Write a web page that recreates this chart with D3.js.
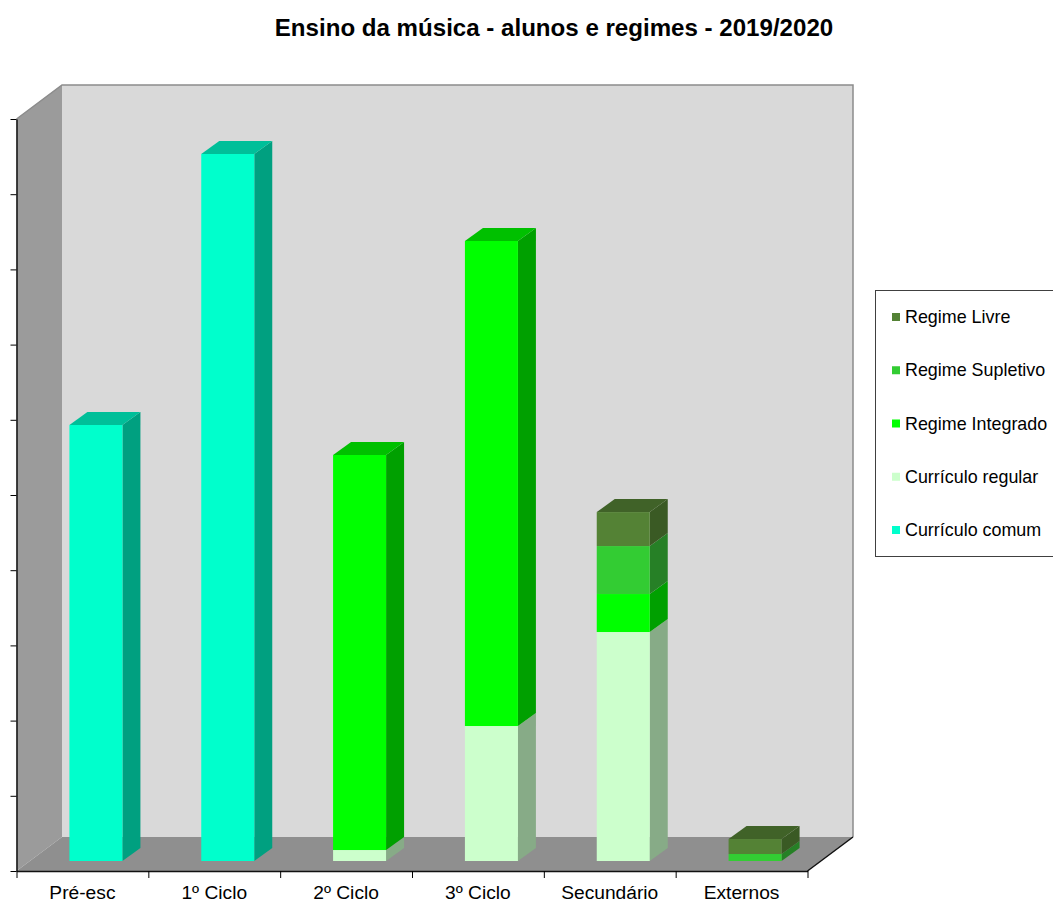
<!DOCTYPE html>
<html>
<head>
<meta charset="utf-8">
<script src="https://cdn.jsdelivr.net/npm/d3@7"></script>
<style>
html, body { margin: 0; padding: 0; background: #fff; overflow: hidden; }
text { font-family: "Liberation Sans", Arial, sans-serif; fill: #000; }
</style>
</head>
<body>
<div id="chart"></div>
<script>
const categories = ["Pré-esc", "1º Ciclo", "2º Ciclo", "3º Ciclo", "Secundário", "Externos"];
const seriesNames = ["Currículo comum", "Currículo regular", "Regime Integrado", "Regime Supletivo", "Regime Livre"];

// values are read off the bar heights, the chart has no y labels (tick = 1000)
const curriculoComum = [5798, 9402, 0, 0, 0, 0];
const curriculoRegular = [0, 0, 146, 1795, 3045, 0];
const regimeIntegrado = [0, 0, 5253, 6450, 505, 0];
const regimeSupletivo = [0, 0, 0, 0, 638, 93];
const regimeLivre = [0, 0, 0, 0, 452, 199];
const yTicks = [0, 1000, 2000, 3000, 4000, 5000, 6000, 7000, 8000, 9000, 10000];

const colors = {
    "Currículo comum": { front: "#00ffcc", side: "#00a080", top: "#00bf99" },
    "Currículo regular": { front: "#ccffcc", side: "#87ab87", top: "#99bf99" },
    "Regime Integrado": { front: "#00ff00", side: "#00a000", top: "#00c000" },
    "Regime Supletivo": { front: "#33cc33", side: "#268026", top: "#269926" },
    "Regime Livre": { front: "#548235", side: "#3a5a24", top: "#406228" }
};

const width = 1053, height = 902;
const plot = { left: 16.5, right: 807.5, top: 119, bottom: 871 };
const wallDepth = { x: 45.5, y: -34 };
const barDepth = { x: 18, y: -13 };
const barBase = { x: 13.5, y: -10 }; // where the bars stand on the floor
const barWidth = 53;

const svg = d3.select("#chart").append("svg")
    .attr("width", width)
    .attr("height", height)
    .style("display", "block");

const xScale = d3.scaleBand().domain(categories).range([plot.left, plot.right]);
const yScale = d3.scaleLinear().domain([0, 10000]).range([plot.bottom, plot.top]);
const xTickScale = d3.scaleLinear().domain([0, categories.length]).range([plot.left, plot.right]);

const poly = (pts) => d3.line()(pts) + "Z";

// walls
const walls = svg.append("g");
const yTop = yScale(10000), yBot = yScale(0);
walls.append("path")
    .attr("d", poly([[plot.left, yTop], [plot.left + wallDepth.x, yTop + wallDepth.y],
        [plot.left + wallDepth.x, yBot + wallDepth.y], [plot.left, yBot]]))
    .attr("fill", "#9b9b9b");
walls.append("path")
    .attr("d", poly([[plot.left, yBot], [plot.left + wallDepth.x, yBot + wallDepth.y],
        [plot.right + wallDepth.x, yBot + wallDepth.y], [plot.right, yBot]]))
    .attr("fill", "#8f8f8f");
walls.append("rect")
    .attr("x", plot.left + wallDepth.x)
    .attr("y", yTop + wallDepth.y)
    .attr("width", plot.right - plot.left)
    .attr("height", yBot - yTop)
    .attr("fill", "#d9d9d9");
walls.append("path")
    .attr("d", d3.line()([[plot.left, yTop], [plot.left + wallDepth.x, yTop + wallDepth.y],
        [plot.right + wallDepth.x, yTop + wallDepth.y], [plot.right + wallDepth.x, yBot + wallDepth.y]]))
    .attr("fill", "none")
    .attr("stroke", "#8c8c8c")
    .attr("stroke-width", 1.5);
walls.append("path")
    .attr("d", d3.line()([[plot.right, yBot], [plot.right + wallDepth.x, yBot + wallDepth.y]]))
    .attr("stroke", "#111")
    .attr("stroke-width", 1.5);

// stacked bars
const table = categories.map((c, i) => ({
    category: c,
    "Currículo comum": curriculoComum[i],
    "Currículo regular": curriculoRegular[i],
    "Regime Integrado": regimeIntegrado[i],
    "Regime Supletivo": regimeSupletivo[i],
    "Regime Livre": regimeLivre[i]
}));
const stacked = d3.stack().keys(seriesNames)(table);

const barsGroup = svg.append("g");
categories.forEach((cat, i) => {
    const x0 = xScale(cat) + (xScale.bandwidth() - barWidth) / 2 + barBase.x;
    const x1 = x0 + barWidth;
    const segments = stacked
        .map(s => ({ key: s.key, y0: s[i][0], y1: s[i][1] }))
        .filter(s => s.y1 > s.y0);
    const g = barsGroup.append("g").attr("class", "bar");

    g.selectAll(".side").data(segments).join("path")
        .attr("class", "side")
        .attr("fill", d => colors[d.key].side)
        .attr("d", d => {
            const a = yScale(d.y0) + barBase.y, b = yScale(d.y1) + barBase.y;
            return poly([[x1, a], [x1 + barDepth.x, a + barDepth.y], [x1 + barDepth.x, b + barDepth.y], [x1, b]]);
        });

    g.selectAll(".front").data(segments).join("rect")
        .attr("class", "front")
        .attr("x", x0)
        .attr("width", barWidth)
        .attr("y", d => yScale(d.y1) + barBase.y)
        .attr("height", d => yScale(d.y0) - yScale(d.y1))
        .attr("fill", d => colors[d.key].front);

    const last = segments[segments.length - 1];
    const t = yScale(last.y1) + barBase.y;
    g.append("path")
        .attr("fill", colors[last.key].top)
        .attr("d", poly([[x0, t], [x0 + barDepth.x, t + barDepth.y], [x1 + barDepth.x, t + barDepth.y], [x1, t]]));
});

// axes
const yAxis = svg.append("g")
    .attr("transform", `translate(${plot.left},0)`)
    .call(d3.axisLeft(yScale).tickValues(yTicks).tickFormat("").tickSize(6).tickSizeOuter(0));
const xAxisTicks = svg.append("g")
    .attr("transform", `translate(0,${plot.bottom})`)
    .call(d3.axisBottom(xTickScale).ticks(categories.length).tickFormat("").tickSize(7).tickSizeOuter(0));
const xAxisLabels = svg.append("g")
    .attr("transform", `translate(0,${plot.bottom})`)
    .call(d3.axisBottom(xScale).tickSize(0).tickPadding(14));
xAxisLabels.select(".domain").remove();
xAxisLabels.selectAll("text")
    .style("font-family", '"Liberation Sans", Arial, sans-serif')
    .style("font-size", "19.2px")
    .attr("fill", "#000");
yAxis.select(".domain").attr("stroke-width", 1.5).attr("stroke", "#111");
xAxisTicks.select(".domain").attr("stroke-width", 1.5).attr("stroke", "#111");

// title
svg.append("text")
    .attr("x", 554)
    .attr("y", 36)
    .attr("text-anchor", "middle")
    .style("font-size", "24.1px")
    .style("font-weight", "bold")
    .text("Ensino da música - alunos e regimes - 2019/2020");

// legend
const legendNames = seriesNames.slice().reverse();
const legendY = d3.scalePoint().domain(legendNames).range([317, 530]);
const legend = svg.append("g");
legend.append("rect")
    .attr("x", 875.5)
    .attr("y", 290.5)
    .attr("width", 190)
    .attr("height", 266)
    .attr("fill", "#fff")
    .attr("stroke", "#404040");
const rows = legend.selectAll(".row").data(legendNames).join("g")
    .attr("class", "row")
    .attr("transform", d => `translate(0,${legendY(d)})`);
rows.append("rect")
    .attr("x", 892)
    .attr("y", -4)
    .attr("width", 8)
    .attr("height", 8)
    .attr("fill", d => colors[d].front);
rows.append("text")
    .attr("x", 905)
    .attr("y", 6)
    .style("font-size", "17.9px")
    .text(d => d);
</script>
</body>
</html>
